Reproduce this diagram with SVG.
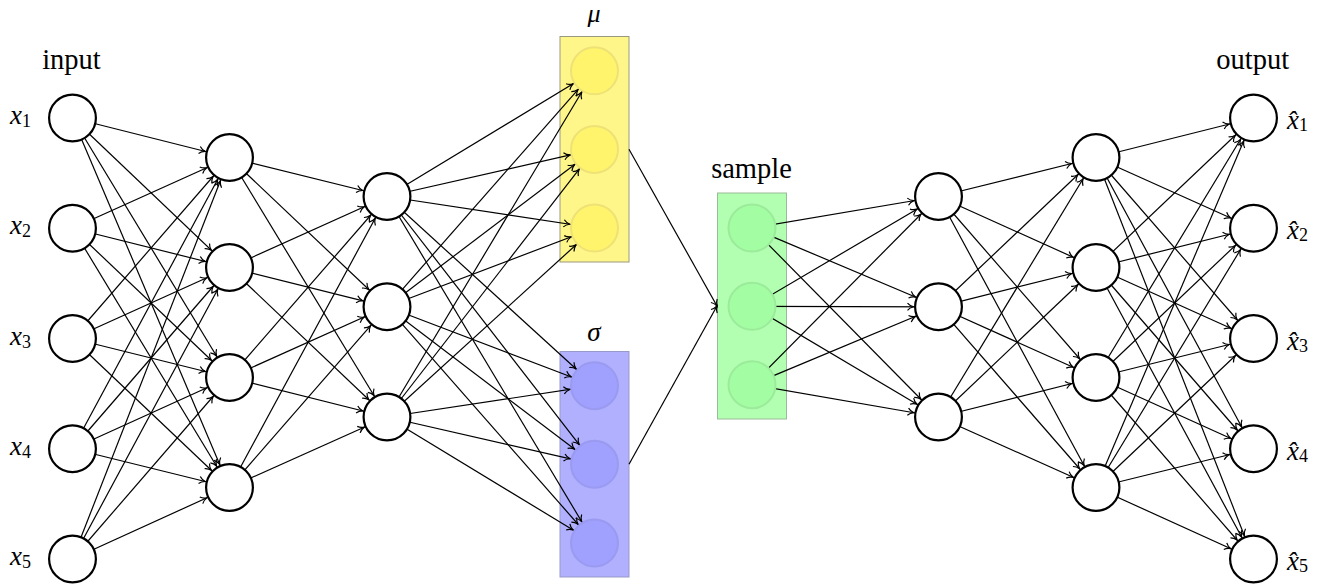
<svg xmlns="http://www.w3.org/2000/svg" width="1325" height="584" viewBox="0 0 1325 584">
<style>
.n{fill:#fff;stroke:#000;stroke-width:2.2}
.e{stroke:#000;stroke-width:1.2;fill:none;marker-end:url(#ah)}
.e0{stroke:#000;stroke-width:1.2;fill:none;marker-end:url(#ah0)}
.ym{fill:#FFF46C;stroke:#EEE277;stroke-width:2}
.yb{fill:#FFF68A;stroke:#999980;stroke-width:1}
.bm{fill:#A0A0FF;stroke:#9A9AF0;stroke-width:2}
.bb{fill:#B0B0FF;stroke:#9999C8;stroke-width:1}
.gm{fill:#A3FDA3;stroke:#9BEB9B;stroke-width:2}
.gb{fill:#B2FFB2;stroke:#99BB99;stroke-width:1}
</style>
<defs>
<marker id="ah" markerUnits="userSpaceOnUse" markerWidth="40" markerHeight="20" refX="25" refY="0" orient="auto" overflow="visible">
<path d="M-6,-3.6 C-4.5,-1.8 -1.5,-0.4 0,0 C-1.5,0.4 -4.5,1.8 -6,3.6" fill="none" stroke="#000" stroke-width="1.2"/>
</marker>
<marker id="ah0" markerUnits="userSpaceOnUse" markerWidth="20" markerHeight="20" refX="0" refY="0" orient="auto" overflow="visible">
<path d="M-6,-3.6 C-4.5,-1.8 -1.5,-0.4 0,0 C-1.5,0.4 -4.5,1.8 -6,3.6" fill="none" stroke="#000" stroke-width="1.2"/>
</marker>
</defs>
<g id="boxes">
<rect id="mu-box" class="yb" x="560" y="36.5" width="69" height="225.5"/>
<rect id="sigma-box" class="bb" x="560" y="351.5" width="69" height="225.5"/>
<rect id="sample-box" class="gb" x="717.5" y="193" width="69" height="226"/>
</g>
<g id="connectors">
<line class="e" x1="72.5" y1="118" x2="229.5" y2="157.5"/>
<line class="e" x1="72.5" y1="118" x2="229.5" y2="267.5"/>
<line class="e" x1="72.5" y1="118" x2="229.5" y2="377.5"/>
<line class="e" x1="72.5" y1="118" x2="229.5" y2="487.5"/>
<line class="e" x1="72.5" y1="228.25" x2="229.5" y2="157.5"/>
<line class="e" x1="72.5" y1="228.25" x2="229.5" y2="267.5"/>
<line class="e" x1="72.5" y1="228.25" x2="229.5" y2="377.5"/>
<line class="e" x1="72.5" y1="228.25" x2="229.5" y2="487.5"/>
<line class="e" x1="72.5" y1="338.5" x2="229.5" y2="157.5"/>
<line class="e" x1="72.5" y1="338.5" x2="229.5" y2="267.5"/>
<line class="e" x1="72.5" y1="338.5" x2="229.5" y2="377.5"/>
<line class="e" x1="72.5" y1="338.5" x2="229.5" y2="487.5"/>
<line class="e" x1="72.5" y1="448.75" x2="229.5" y2="157.5"/>
<line class="e" x1="72.5" y1="448.75" x2="229.5" y2="267.5"/>
<line class="e" x1="72.5" y1="448.75" x2="229.5" y2="377.5"/>
<line class="e" x1="72.5" y1="448.75" x2="229.5" y2="487.5"/>
<line class="e" x1="72.5" y1="559" x2="229.5" y2="157.5"/>
<line class="e" x1="72.5" y1="559" x2="229.5" y2="267.5"/>
<line class="e" x1="72.5" y1="559" x2="229.5" y2="377.5"/>
<line class="e" x1="72.5" y1="559" x2="229.5" y2="487.5"/>
<line class="e" x1="229.5" y1="157.5" x2="387" y2="196.5"/>
<line class="e" x1="229.5" y1="157.5" x2="387" y2="306.8"/>
<line class="e" x1="229.5" y1="157.5" x2="387" y2="417"/>
<line class="e" x1="229.5" y1="267.5" x2="387" y2="196.5"/>
<line class="e" x1="229.5" y1="267.5" x2="387" y2="306.8"/>
<line class="e" x1="229.5" y1="267.5" x2="387" y2="417"/>
<line class="e" x1="229.5" y1="377.5" x2="387" y2="196.5"/>
<line class="e" x1="229.5" y1="377.5" x2="387" y2="306.8"/>
<line class="e" x1="229.5" y1="377.5" x2="387" y2="417"/>
<line class="e" x1="229.5" y1="487.5" x2="387" y2="196.5"/>
<line class="e" x1="229.5" y1="487.5" x2="387" y2="306.8"/>
<line class="e" x1="229.5" y1="487.5" x2="387" y2="417"/>
<line class="e" x1="387" y1="196.5" x2="594.5" y2="70.8"/>
<line class="e" x1="387" y1="196.5" x2="594.5" y2="149.4"/>
<line class="e" x1="387" y1="196.5" x2="594.5" y2="228"/>
<line class="e" x1="387" y1="306.8" x2="594.5" y2="70.8"/>
<line class="e" x1="387" y1="306.8" x2="594.5" y2="149.4"/>
<line class="e" x1="387" y1="306.8" x2="594.5" y2="228"/>
<line class="e" x1="387" y1="417" x2="594.5" y2="70.8"/>
<line class="e" x1="387" y1="417" x2="594.5" y2="149.4"/>
<line class="e" x1="387" y1="417" x2="594.5" y2="228"/>
<line class="e" x1="387" y1="196.5" x2="594.5" y2="385.7"/>
<line class="e" x1="387" y1="196.5" x2="594.5" y2="464.3"/>
<line class="e" x1="387" y1="196.5" x2="594.5" y2="543"/>
<line class="e" x1="387" y1="306.8" x2="594.5" y2="385.7"/>
<line class="e" x1="387" y1="306.8" x2="594.5" y2="464.3"/>
<line class="e" x1="387" y1="306.8" x2="594.5" y2="543"/>
<line class="e" x1="387" y1="417" x2="594.5" y2="385.7"/>
<line class="e" x1="387" y1="417" x2="594.5" y2="464.3"/>
<line class="e" x1="387" y1="417" x2="594.5" y2="543"/>
<line class="e0" x1="629" y1="149.3" x2="717" y2="306"/>
<line class="e0" x1="629" y1="464.3" x2="717" y2="306"/>
<line class="e" x1="752" y1="228" x2="938.5" y2="196.5"/>
<line class="e" x1="752" y1="228" x2="938.5" y2="306.8"/>
<line class="e" x1="752" y1="228" x2="938.5" y2="417"/>
<line class="e" x1="752" y1="306.3" x2="938.5" y2="196.5"/>
<line class="e" x1="752" y1="306.3" x2="938.5" y2="306.8"/>
<line class="e" x1="752" y1="306.3" x2="938.5" y2="417"/>
<line class="e" x1="752" y1="384.7" x2="938.5" y2="196.5"/>
<line class="e" x1="752" y1="384.7" x2="938.5" y2="306.8"/>
<line class="e" x1="752" y1="384.7" x2="938.5" y2="417"/>
<line class="e" x1="938.5" y1="196.5" x2="1096" y2="157.5"/>
<line class="e" x1="938.5" y1="196.5" x2="1096" y2="267.5"/>
<line class="e" x1="938.5" y1="196.5" x2="1096" y2="377.5"/>
<line class="e" x1="938.5" y1="196.5" x2="1096" y2="487.5"/>
<line class="e" x1="938.5" y1="306.8" x2="1096" y2="157.5"/>
<line class="e" x1="938.5" y1="306.8" x2="1096" y2="267.5"/>
<line class="e" x1="938.5" y1="306.8" x2="1096" y2="377.5"/>
<line class="e" x1="938.5" y1="306.8" x2="1096" y2="487.5"/>
<line class="e" x1="938.5" y1="417" x2="1096" y2="157.5"/>
<line class="e" x1="938.5" y1="417" x2="1096" y2="267.5"/>
<line class="e" x1="938.5" y1="417" x2="1096" y2="377.5"/>
<line class="e" x1="938.5" y1="417" x2="1096" y2="487.5"/>
<line class="e" x1="1096" y1="157.5" x2="1253.5" y2="118"/>
<line class="e" x1="1096" y1="157.5" x2="1253.5" y2="228.25"/>
<line class="e" x1="1096" y1="157.5" x2="1253.5" y2="338.5"/>
<line class="e" x1="1096" y1="157.5" x2="1253.5" y2="448.75"/>
<line class="e" x1="1096" y1="157.5" x2="1253.5" y2="559"/>
<line class="e" x1="1096" y1="267.5" x2="1253.5" y2="118"/>
<line class="e" x1="1096" y1="267.5" x2="1253.5" y2="228.25"/>
<line class="e" x1="1096" y1="267.5" x2="1253.5" y2="338.5"/>
<line class="e" x1="1096" y1="267.5" x2="1253.5" y2="448.75"/>
<line class="e" x1="1096" y1="267.5" x2="1253.5" y2="559"/>
<line class="e" x1="1096" y1="377.5" x2="1253.5" y2="118"/>
<line class="e" x1="1096" y1="377.5" x2="1253.5" y2="228.25"/>
<line class="e" x1="1096" y1="377.5" x2="1253.5" y2="338.5"/>
<line class="e" x1="1096" y1="377.5" x2="1253.5" y2="448.75"/>
<line class="e" x1="1096" y1="377.5" x2="1253.5" y2="559"/>
<line class="e" x1="1096" y1="487.5" x2="1253.5" y2="118"/>
<line class="e" x1="1096" y1="487.5" x2="1253.5" y2="228.25"/>
<line class="e" x1="1096" y1="487.5" x2="1253.5" y2="338.5"/>
<line class="e" x1="1096" y1="487.5" x2="1253.5" y2="448.75"/>
<line class="e" x1="1096" y1="487.5" x2="1253.5" y2="559"/>
</g>
<g id="input-layer">
<circle id="in1" class="n" cx="72.5" cy="118" r="23.4"/>
<circle id="in2" class="n" cx="72.5" cy="228.25" r="23.4"/>
<circle id="in3" class="n" cx="72.5" cy="338.5" r="23.4"/>
<circle id="in4" class="n" cx="72.5" cy="448.75" r="23.4"/>
<circle id="in5" class="n" cx="72.5" cy="559" r="23.4"/>
<text font-family="Liberation Serif" font-size="28.5" x="71.5" y="69" text-anchor="middle">input</text>
<text font-family="Liberation Serif" font-size="27" font-style="italic" x="10" y="124">x<tspan font-style="normal" font-size="18" dy="3">1</tspan></text>
<text font-family="Liberation Serif" font-size="27" font-style="italic" x="10" y="234.25">x<tspan font-style="normal" font-size="18" dy="3">2</tspan></text>
<text font-family="Liberation Serif" font-size="27" font-style="italic" x="10" y="344.5">x<tspan font-style="normal" font-size="18" dy="3">3</tspan></text>
<text font-family="Liberation Serif" font-size="27" font-style="italic" x="10" y="454.75">x<tspan font-style="normal" font-size="18" dy="3">4</tspan></text>
<text font-family="Liberation Serif" font-size="27" font-style="italic" x="10" y="565">x<tspan font-style="normal" font-size="18" dy="3">5</tspan></text>
</g>
<g id="enc-hidden1">
<circle class="n" cx="229.5" cy="157.5" r="23.4"/>
<circle class="n" cx="229.5" cy="267.5" r="23.4"/>
<circle class="n" cx="229.5" cy="377.5" r="23.4"/>
<circle class="n" cx="229.5" cy="487.5" r="23.4"/>
</g>
<g id="enc-hidden2">
<circle class="n" cx="387" cy="196.5" r="23.4"/>
<circle class="n" cx="387" cy="306.8" r="23.4"/>
<circle class="n" cx="387" cy="417" r="23.4"/>
</g>
<g id="mu">
<circle class="ym" cx="594.5" cy="70.8" r="23.5"/>
<circle class="ym" cx="594.5" cy="149.4" r="23.5"/>
<circle class="ym" cx="594.5" cy="228" r="23.5"/>
<text font-family="Liberation Serif" font-size="26" font-style="italic" x="594" y="22" text-anchor="middle">μ</text>
</g>
<g id="sigma">
<circle class="bm" cx="594.5" cy="385.7" r="23.5"/>
<circle class="bm" cx="594.5" cy="464.3" r="23.5"/>
<circle class="bm" cx="594.5" cy="543" r="23.5"/>
<text font-family="Liberation Serif" font-size="27" font-style="italic" x="594" y="341" text-anchor="middle">σ</text>
</g>
<g id="sample">
<circle class="gm" cx="752" cy="228" r="23.5"/>
<circle class="gm" cx="752" cy="306.3" r="23.5"/>
<circle class="gm" cx="752" cy="384.7" r="23.5"/>
<text font-family="Liberation Serif" font-size="28.5" x="751.5" y="178" text-anchor="middle">sample</text>
</g>
<g id="dec-hidden1">
<circle class="n" cx="938.5" cy="196.5" r="23.4"/>
<circle class="n" cx="938.5" cy="306.8" r="23.4"/>
<circle class="n" cx="938.5" cy="417" r="23.4"/>
</g>
<g id="dec-hidden2">
<circle class="n" cx="1096" cy="157.5" r="23.4"/>
<circle class="n" cx="1096" cy="267.5" r="23.4"/>
<circle class="n" cx="1096" cy="377.5" r="23.4"/>
<circle class="n" cx="1096" cy="487.5" r="23.4"/>
</g>
<g id="output-layer">
<circle id="out1" class="n" cx="1253.5" cy="118" r="23.4"/>
<circle id="out2" class="n" cx="1253.5" cy="228.25" r="23.4"/>
<circle id="out3" class="n" cx="1253.5" cy="338.5" r="23.4"/>
<circle id="out4" class="n" cx="1253.5" cy="448.75" r="23.4"/>
<circle id="out5" class="n" cx="1253.5" cy="559" r="23.4"/>
<text font-family="Liberation Serif" font-size="28.5" x="1252.7" y="69" text-anchor="middle">output</text>
<text font-family="Liberation Serif" font-size="27" font-style="italic" x="1287" y="129">x̂<tspan font-style="normal" font-size="18" dy="2">1</tspan></text>
<text font-family="Liberation Serif" font-size="27" font-style="italic" x="1287" y="239.25">x̂<tspan font-style="normal" font-size="18" dy="2">2</tspan></text>
<text font-family="Liberation Serif" font-size="27" font-style="italic" x="1287" y="349.5">x̂<tspan font-style="normal" font-size="18" dy="2">3</tspan></text>
<text font-family="Liberation Serif" font-size="27" font-style="italic" x="1287" y="459.75">x̂<tspan font-style="normal" font-size="18" dy="2">4</tspan></text>
<text font-family="Liberation Serif" font-size="27" font-style="italic" x="1287" y="570">x̂<tspan font-style="normal" font-size="18" dy="2">5</tspan></text>
</g>
</svg>
